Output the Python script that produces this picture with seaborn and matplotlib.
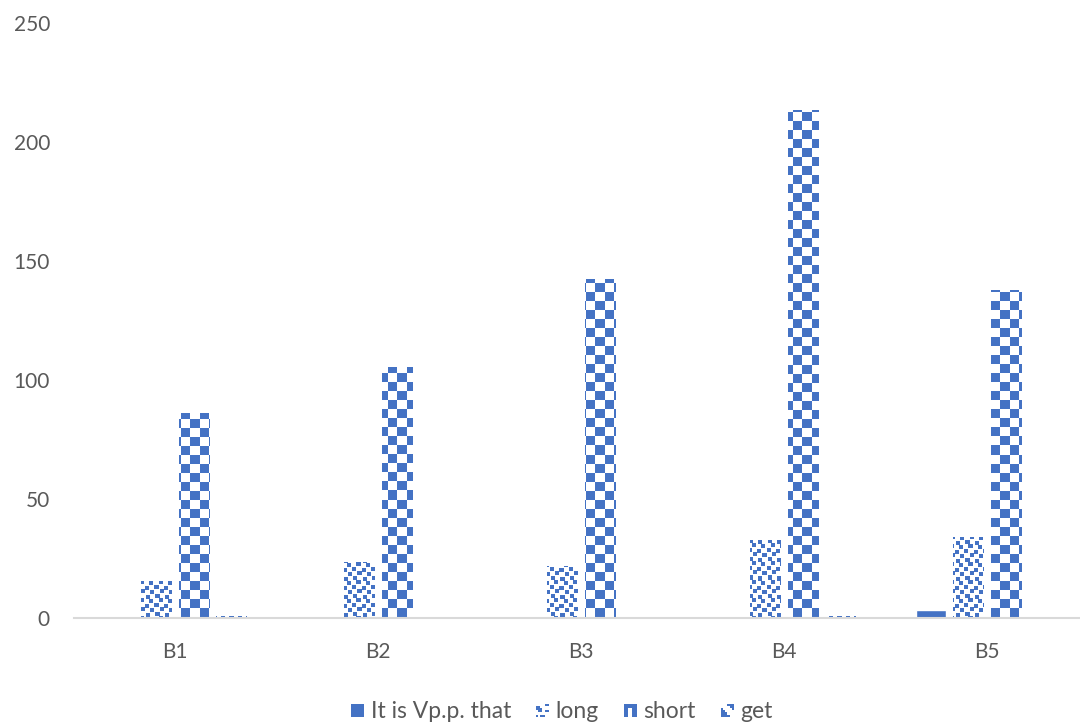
import numpy as np
import pandas as pd
import matplotlib
matplotlib.use("Agg")
import matplotlib.pyplot as plt
import seaborn as sns
from matplotlib.patches import Patch, Rectangle
from matplotlib.legend_handler import HandlerBase

# ---- data ----
categories = ["B1", "B2", "B3", "B4", "B5"]
series_names = ["It is Vp.p. that", "long", "short", "get"]
it_is_vpp_that = [0, 0, 0, 0, 3.5]
long_vals = [15.5, 23.5, 21.8, 32.8, 34]
short_vals = [86, 105.5, 142.5, 213.5, 138]
get_vals = [1, 0, 0, 1, 0]
y_ticks = [0, 50, 100, 150, 200, 250]

values = [it_is_vpp_that, long_vals, short_vals, get_vals]
df = pd.DataFrame({
    "category": [c for s in values for c in categories],
    "series": [n for n, s in zip(series_names, values) for _ in s],
    "value": [v for s in values for v in s],
})

BLUE = "#4472C4"
TEXT = "#595959"
AXIS = "#D9D9D9"

sns.set_theme(style="white")
plt.rcParams["font.family"] = ["Lato", "DejaVu Sans"]

fig = plt.figure(figsize=(10.8, 7.25), dpi=100)
ax = fig.add_axes([73.5 / 1080, 107 / 725, 1015 / 1080, 595 / 725])

sns.barplot(data=df, x="category", y="value", hue="series", order=categories,
            hue_order=series_names, palette=[BLUE] * 4, width=0.73, gap=0.19,
            legend=False, ax=ax, saturation=1)

ax.set_xlim(-0.5, 4.5)
ax.set_ylim(0, 250)
ax.set_yticks(y_ticks)
ax.set_xlabel("")
ax.set_ylabel("")
for side in ("left", "right", "top"):
    ax.spines[side].set_visible(False)
ax.spines["bottom"].set_color(AXIS)
ax.spines["bottom"].set_linewidth(1.5)
ax.tick_params(axis="both", length=0, colors=TEXT, labelsize=15)
ax.tick_params(axis="y", pad=17)
ax.tick_params(axis="x", pad=17)


# ---- fill patterns (pixel-anchored textures) ----
def checker(px, py):
    cell = 9
    return ((px // cell) + (py // cell)) % 2 == 0


_dots = [(0, 2), (1, 11), (5, 6), (6, 15), (9, 1), (10, 10), (14, 5), (15, 14)]
_tile = np.zeros((18, 18), dtype=bool)
for r, c in _dots:
    for dr in range(4):
        for dc in range(4):
            _tile[(r + dr) % 18, (c + dc) % 18] = True


def confetti(px, py):
    return _tile[py % 18, px % 18]


def diagonal(px, py):
    return ((px + py) // 4) % 2 == 0


patterns = {"long": confetti, "short": checker, "get": diagonal}
rgb = np.array(matplotlib.colors.to_rgb(BLUE))

fig.canvas.draw()
n_cat = len(categories)
for i, patch in enumerate(list(ax.patches)):
    name = series_names[i // n_cat]
    x0, y0 = patch.get_x(), patch.get_y()
    w, h = patch.get_width(), patch.get_height()
    if h <= 0 or name not in patterns:
        continue
    (dx0, dy0), (dx1, dy1) = ax.transData.transform([(x0, y0), (x0 + w, y0 + h)])
    nx = max(int(round(dx1 - dx0)), 1)
    ny = max(int(round(dy1 - dy0)), 1)
    px, py = np.meshgrid(np.arange(nx) + int(dx0), np.arange(ny) + int(dy0))
    mask = patterns[name](px, py)
    img = np.ones((ny, nx, 4))
    img[mask, :3] = rgb
    patch.set_facecolor("white")
    im = ax.imshow(img, extent=(x0, x0 + w, y0, y0 + h), origin="lower",
                   interpolation="nearest", aspect="auto", zorder=patch.get_zorder() + 0.1)
    im.set_clip_path(patch)

ax.set_xlim(-0.5, 4.5)
ax.set_ylim(0, 250)

# ---- legend with small pattern swatches ----
ICONS = {
    "It is Vp.p. that": ["111111", "111111", "111111", "111111", "111111", "111111"],
    "long": ["000011", "110000", "111000", "011011", "000000", "101100"],
    "short": ["111111", "111111", "110011", "110011", "110011", "110011"],
    "get": ["000111", "000011", "100001", "110000", "111000", "111100"],
}


class SwatchHandler(HandlerBase):
    def create_artists(self, legend, orig_handle, xdescent, ydescent, width, height,
                       fontsize, trans):
        rows = ICONS[orig_handle.get_label()]
        n = len(rows)
        size = min(width, height)
        cell = size / n
        x_start = -xdescent + (width - size) / 2
        y_start = -ydescent + (height - size) / 2
        artists = []
        for r, row in enumerate(rows):
            for c, ch in enumerate(row):
                if ch == "1":
                    artists.append(Rectangle((x_start + c * cell, y_start + (n - 1 - r) * cell),
                                             cell, cell, facecolor=BLUE, edgecolor="none",
                                             linewidth=0, transform=trans))
        return artists


handles = [Patch(facecolor=BLUE, label=n) for n in series_names]
leg = fig.legend(handles=handles, loc="center", bbox_to_anchor=(562 / 1080, 1 - 712 / 725),
                 ncol=4, frameon=False, fontsize=16.5, handlelength=0.55, handleheight=0.55,
                 handletextpad=0.3, columnspacing=1.1, labelcolor=TEXT,
                 handler_map={Patch: SwatchHandler()})

fig.savefig("out.png", dpi=100)
